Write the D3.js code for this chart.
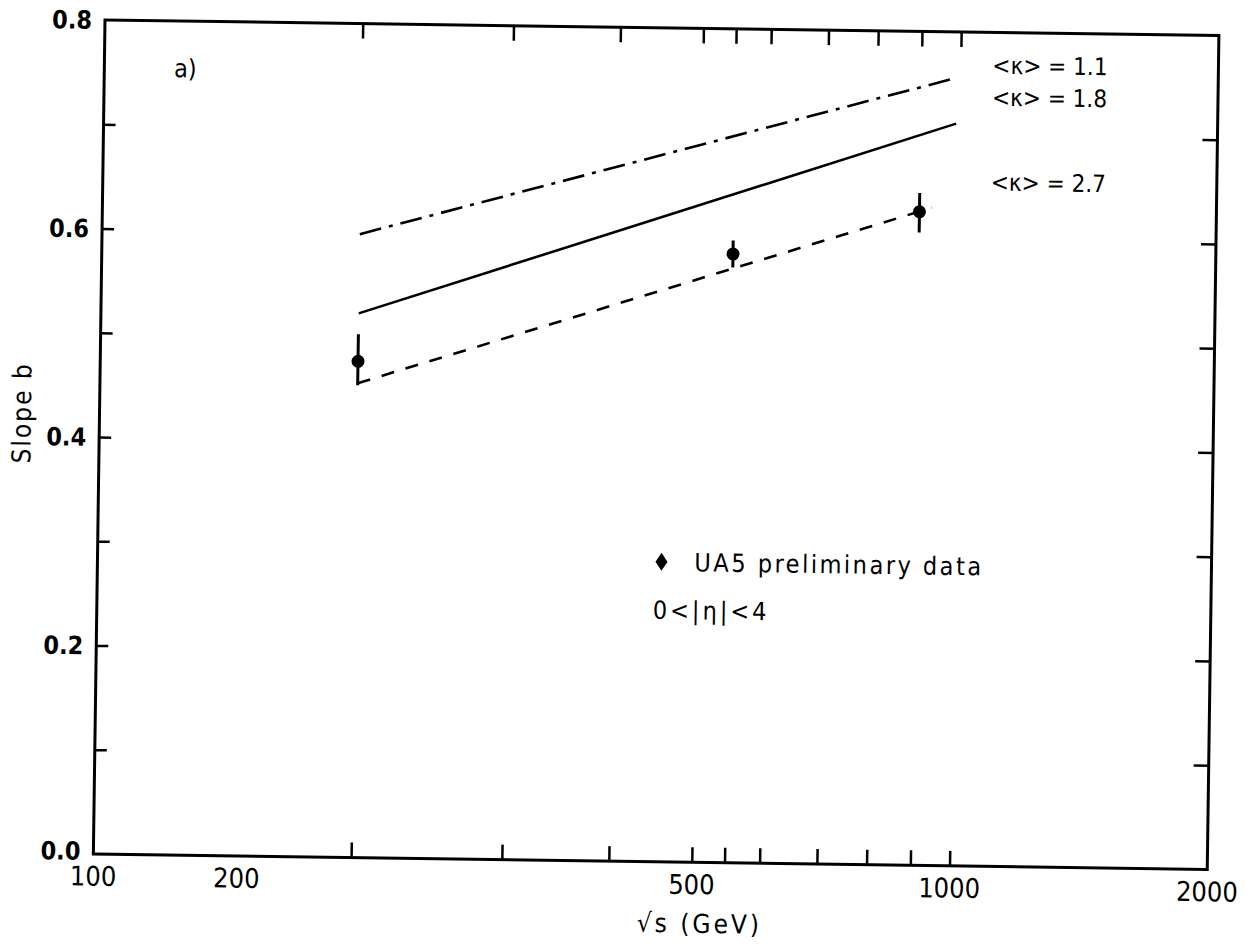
<!DOCTYPE html>
<html><head><meta charset="utf-8">
<script src="https://cdn.jsdelivr.net/npm/d3@7"></script>
<style>
html,body{margin:0;padding:0;background:#fff;}
svg{display:block;}
text{font-family:"Liberation Sans Narrow","DejaVu Sans Condensed","Liberation Sans",Arial,sans-serif;fill:#000;}
</style></head>
<body>
<script>
// ---- data ----
const energies = [200, 546, 900];                 // sqrt(s) GeV
const slopes   = [0.476, 0.584, 0.627];          // slope b
const errLow   = [0.453, 0.571, 0.607];
const errHigh  = [0.502, 0.597, 0.645];

const curveLabels = ["<κ> = 1.1", "<κ> = 1.8", "<κ> = 2.7"];
const curveX   = [[200, 990], [200, 990], [200, 930]];
const curveY   = [[0.598, 0.756], [0.522, 0.712], [0.455, 0.631]];
const curveDash = ["22,8,4,8", null, "13,12"];

const xTickValues = [200, 300, 400, 500, 546, 600, 700, 800, 900, 1000];
const xLabelTexts = ["100", "200", "500", "1000", "2000"];
const xLabelAt    = [100, 147, 500, 1000, 2000];
const yTickValues = [0.1, 0.2, 0.3, 0.4, 0.5, 0.6, 0.7];
const yLabelValues = [0.0, 0.2, 0.4, 0.6, 0.8];

// ---- layout ----
const W = 1259, H = 945;
const mLeft = 105, mTop = 20, pw = 1114, ph = 834;

const svg = d3.select("body").append("svg").attr("width", W).attr("height", H);
const g = svg.append("g")
  .attr("transform", `translate(${mLeft},${mTop}) rotate(0.8)`);

const x = d3.scaleLog().domain([100, 2000]).range([0, pw]);
const y = d3.scaleLinear().domain([0, 0.8]).range([ph, 0]);

// frame
g.append("rect").attr("x", 0).attr("y", 0).attr("width", pw).attr("height", ph)
  .attr("fill", "none").attr("stroke", "#000").attr("stroke-width", 3);

// ticks (inward) via d3 axes
const tickStyle = sel => { sel.select(".domain").remove(); sel.selectAll("line").attr("stroke", "#000").attr("stroke-width", 2.5); sel.selectAll("text").remove(); };
g.append("g").attr("transform", `translate(0,${ph})`)
  .call(d3.axisTop(x).tickValues(xTickValues).tickSize(15)).call(tickStyle);
g.append("g")
  .call(d3.axisBottom(x).tickValues(xTickValues).tickSize(15)).call(tickStyle);
g.append("g")
  .call(d3.axisRight(y).tickValues(yTickValues).tickSize(12)).call(tickStyle);
g.append("g").attr("transform", `translate(${pw},0)`)
  .call(d3.axisLeft(y).tickValues(yTickValues).tickSize(15)).call(tickStyle);

// tick labels
g.selectAll(".ylab").data(yLabelValues).enter().append("text")
  .attr("x", -13).attr("y", d => y(d) - (d === 0 ? 3 : 0)).attr("dy", "0.36em")
  .attr("text-anchor", "end").attr("font-size", 25).attr("font-weight", "bold")
  .text(d => d.toFixed(1));
g.selectAll(".xlab").data(xLabelTexts).enter().append("text")
  .attr("x", (d, i) => x(xLabelAt[i])).attr("y", ph + 22).attr("dy", "0.36em")
  .attr("text-anchor", "middle").attr("font-size", 27)
  .text(d => d);

// axis titles
g.append("text").attr("transform", `translate(-78,394) rotate(-90)`)
  .attr("text-anchor", "middle").attr("dy", "0.36em").attr("font-size", 26)
  .attr("letter-spacing", 2).text("Slope b");
g.append("text").attr("x", 607).attr("y", 895).attr("dy", "0.36em")
  .attr("text-anchor", "middle").attr("font-size", 26).attr("letter-spacing", 3).text("√s (GeV)");

// panel label
g.append("text").attr("x", 81).attr("y", 47).attr("dy", "0.36em")
  .attr("text-anchor", "middle").attr("font-size", 25).text("a)");

// curves
const line = d3.line().x(d => x(d[0])).y(d => y(d[1]));
curveX.forEach((xs, i) => {
  g.append("path").datum(xs.map((v, j) => [v, curveY[i][j]]))
    .attr("d", line).attr("fill", "none").attr("stroke", "#000")
    .attr("stroke-width", 2.6)
    .attr("stroke-dasharray", curveDash[i]);
});

// curve labels
const labV = [32.6, 64.6, 149.6];
g.selectAll(".clab").data(curveLabels).enter().append("text")
  .attr("x", 888).attr("y", (d, i) => labV[i]).attr("dy", "0.36em")
  .attr("font-size", 24).text(d => d);

// data points with error bars
energies.forEach((e, i) => {
  g.append("line").attr("x1", x(e)).attr("x2", x(e))
    .attr("y1", y(errLow[i])).attr("y2", y(errHigh[i]))
    .attr("stroke", "#000").attr("stroke-width", 3);
  g.append("circle").attr("cx", x(e)).attr("cy", y(slopes[i])).attr("r", 6.5).attr("fill", "#000");
});

// legend
const legX = 597, legY = 534;
g.append("path").attr("d", `M${legX - 33},${legY - 9} L${legX - 27},${legY} L${legX - 33},${legY + 9} L${legX - 39},${legY} Z`)
  .attr("fill", "#000");
g.append("text").attr("x", legX).attr("y", legY).attr("dy", "0.36em")
  .attr("font-size", 25).attr("letter-spacing", 2.5).text("UA5  preliminary  data");
g.append("text").attr("x", legX - 41).attr("y", legY + 48).attr("dy", "0.36em")
  .attr("font-size", 25).attr("letter-spacing", 3).text("0<|η|<4");
</script>
</body></html>
